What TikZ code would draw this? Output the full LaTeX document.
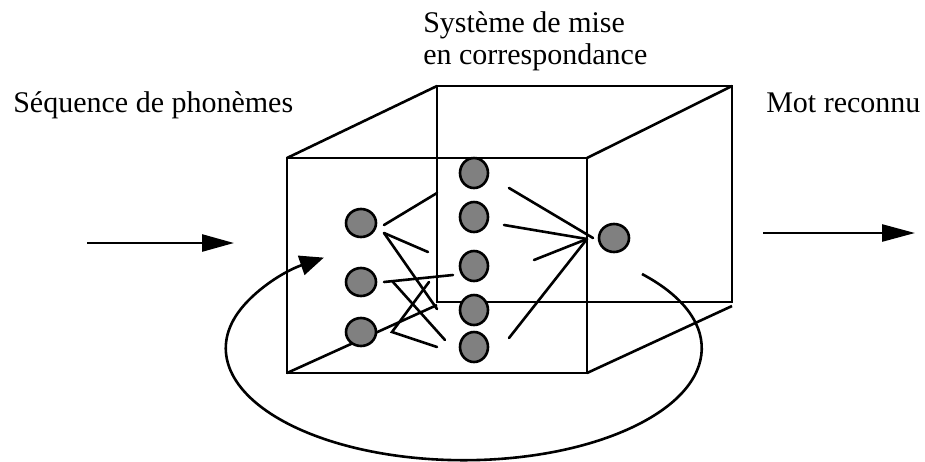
\documentclass[tikz,border=0pt]{standalone}
\usepackage{fontspec}
\setmainfont{Liberation Serif}
\usetikzlibrary{arrows.meta,calc,shapes.geometric}
\tikzset{
  unit/.style={draw, ellipse, fill=black!50, inner sep=0pt, minimum width=30pt, minimum height=28pt},
  munit/.style={unit, minimum width=28pt, minimum height=30pt},
  wire/.style={line cap=round},
  label/.style={inner sep=0pt, font=\fontsize{30}{32.5}\selectfont}
}
\begin{document}
\begin{tikzpicture}[x=1pt, y=-1pt, line width=2.6pt, line join=miter]
\useasboundingbox (0,0) rectangle (925,461);
\node[label, anchor=base west] (seq) at (12,112) {Séquence de phonèmes};
\node[label, anchor=base west, align=left] (sys) at (422,64.5) {Système de mise\\en correspondance};
\node[label, anchor=base west] (mot) at (765,112) {Mot reconnu};
% cube
\coordinate (f-nw) at (287,158);
\coordinate (f-se) at (587,373);
\coordinate (b-nw) at (437,86);
\coordinate (b-se) at (732,302);
\draw (b-nw) rectangle (b-se);
\draw (f-nw) rectangle (f-se);
\draw (f-nw) -- (b-nw);
\draw (f-nw -| f-se) -- (b-nw -| b-se);
\draw (f-nw |- f-se) -- (437,305);
\draw (f-se) -- (732,306);
% units
\foreach \n/\y in {1/223,2/282,3/332} \node[unit] (l\n) at (361,\y) {};
\foreach \n/\y in {1/173,2/217,3/266,4/310,5/347} \node[munit] (m\n) at (474,\y) {};
\node[unit] (out) at (614,238) {};
\coordinate (hub) at (587,239);
% links
\draw[wire] ($(l1)+(23,2)$) -- ($(m1)+(-37,20)$);
\draw[wire] ($(l1)+(23,10)$) -- ($(l1)+(67,29)$);
\draw[wire] ($(l1)+(23,10)$) -- ($(m4)+(-37,-1)$);
\draw[wire] ($(l2)+(23,0)$) -- ($(m3)+(-21,9)$);
\draw[wire] ($(l2)+(32,0)$) -- ($(m5)+(-29,-7)$);
\draw[wire] ($(l2)+(68,0)$) -- ($(l3)+(31,0)$) -- ($(m5)+(-37,0)$);
\draw[wire] ($(m1)+(35,15)$) -- ($(hub)+(6,-1)$);
\draw[wire] ($(m2)+(30,8)$) -- (hub);
\draw[wire] ($(m3)+(60,-6)$) -- (hub);
\draw[wire] ($(m5)+(35,-9)$) -- (hub);
% input / output
\coordinate (in0) at (87,243);
\coordinate (in1) at (234,243);
\coordinate (out0) at (763,233);
\coordinate (out1) at (915,233);
\draw[-{Triangle[length=32pt,width=17pt]}] (in0) -- (in1);
\draw[-{Triangle[length=33pt,width=17pt]}] (out0) -- (out1);
% feedback loop
\coordinate (loop) at (642,274);
\draw[-{Triangle[length=24pt,width=20pt]}] (loop) arc[start angle=-41.5, end angle=234, x radius=238, y radius=112];
\end{tikzpicture}
\end{document}
